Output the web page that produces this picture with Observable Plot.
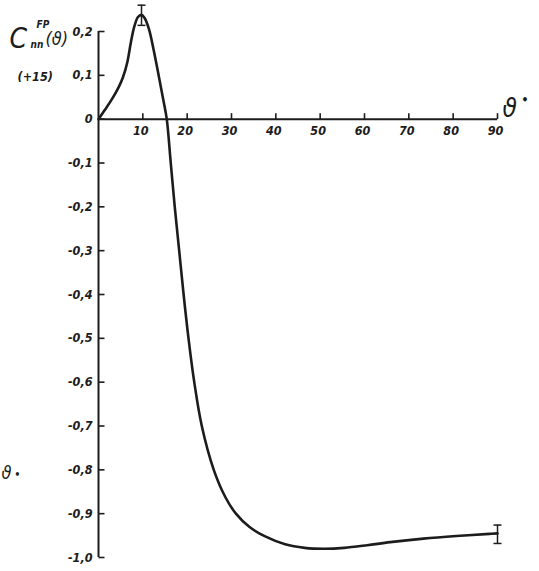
<!DOCTYPE html>
<html>
<head>
<meta charset="utf-8">
<script src="https://cdn.jsdelivr.net/npm/d3@7"></script>
<script src="https://cdn.jsdelivr.net/npm/@observablehq/plot@0.6"></script>
<style>
  html, body { margin: 0; padding: 0; background: #fff; }
  #chart svg { display: block; }
</style>
</head>
<body>
<div id="chart"></div>
<script>
// Curve C_nn^FP(theta)
const theta = [0, 1.5, 3.0, 4.5, 5.5, 6.5, 7.3, 8.1, 8.9, 9.7, 10.4, 11.4, 12.5, 13.7, 14.7, 15.4,
  16.3, 17.2, 18.2, 19.2, 20.3, 21.6, 23.3, 26.0, 28.6, 31.0, 34.0, 37.6, 42.1, 46.5,
  51.0, 55.4, 60.6, 65.8, 73.3, 80.7, 88.2, 90];
const cnn = [0, 0.022, 0.045, 0.072, 0.095, 0.130, 0.175, 0.212, 0.233, 0.238, 0.231, 0.205, 0.155, 0.093, 0.040, 0,
  -0.1, -0.2, -0.3, -0.4, -0.5, -0.6, -0.7, -0.8, -0.862, -0.900, -0.930, -0.952, -0.970, -0.978,
  -0.980, -0.978, -0.972, -0.965, -0.957, -0.951, -0.946, -0.945];

// Error bars
const errTheta = [9.7, 90];
const errLow = [0.214, -0.968];
const errHigh = [0.26, -0.926];

// Ticks
const xTicks = [10, 20, 30, 40, 50, 60, 70, 80, 90];
const xTickLabels = ["10", "20", "30", "40", "50", "60", "70", "80", "90"];
const yTicks = [0.2, 0.1, 0, -0.1, -0.2, -0.3, -0.4, -0.5, -0.6, -0.7, -0.8, -0.9, -1.0];
const yTickLabels = ["0,2", "0,1", "0", "-0,1", "-0,2", "-0,3", "-0,4", "-0,5", "-0,6", "-0,7", "-0,8", "-0,9", "-1,0"];

const curve = theta.map((t, i) => ({t, v: cnn[i]}));
const errs = errTheta.map((t, i) => ({t, lo: errLow[i], hi: errHigh[i]}));
const xt = xTicks.map((t, i) => ({t, label: xTickLabels[i]}));
const yt = yTicks.map((v, i) => ({v, label: yTickLabels[i]}));

const ink = "#1c1c1c";
const font = "'DejaVu Sans Condensed', 'DejaVu Sans', sans-serif";

const hTick = {draw(ctx) { ctx.moveTo(0, 0); ctx.lineTo(6, 0); }};
const vTick = {draw(ctx) { ctx.moveTo(0, 0); ctx.lineTo(0, -6); }};
const cap = {draw(ctx) { ctx.moveTo(-4, 0); ctx.lineTo(4, 0); }};

const ML = 98, MT = 31;
const lbl = (text, X, Y, size, extra = {}) =>
  Plot.text([text], {
    frameAnchor: "top-left", dx: X - ML, dy: Y - MT, text: d => d,
    fontSize: size, fontStyle: "italic", fontWeight: "bold", fill: ink,
    textAnchor: "start", lineAnchor: "bottom", ...extra
  });

const chart = Plot.plot({
  width: 539,
  height: 571,
  marginLeft: ML,
  marginRight: 42,
  marginTop: MT,
  marginBottom: 14,
  style: {background: "#fff", fontFamily: font},
  x: {domain: [0, 90], axis: null},
  y: {domain: [-1.0, 0.2], axis: null},
  marks: [
    // axes lines
    Plot.ruleX([0], {y1: -1.0, y2: 0.2, stroke: ink, strokeWidth: 2}),
    Plot.ruleY([0], {x1: 0, x2: 90, stroke: ink, strokeWidth: 2}),
    // y ticks and labels
    Plot.dot(yt, {x: 0, y: "v", symbol: hTick, stroke: ink, strokeWidth: 1.6, fill: "none"}),
    Plot.text(yt, {x: 0, y: "v", text: "label", dx: -6, textAnchor: "end",
      fontSize: 12.5, fontStyle: "italic", fontWeight: "bold", fill: ink}),
    // x ticks and labels
    Plot.dot(xt, {x: "t", y: 0, symbol: vTick, stroke: ink, strokeWidth: 1.6, fill: "none"}),
    Plot.text(xt, {x: "t", y: 0, text: "label", dy: 12, dx: -2,
      fontSize: 12.5, fontStyle: "italic", fontWeight: "bold", fill: ink}),
    // curve
    Plot.line(curve, {x: "t", y: "v", curve: "catmull-rom", stroke: ink, strokeWidth: 2.6}),
    // error bars
    Plot.ruleX(errs, {x: "t", y1: "lo", y2: "hi", stroke: ink, strokeWidth: 1.5}),
    Plot.dot(errs, {x: "t", y: "lo", symbol: cap, stroke: ink, strokeWidth: 1.5, fill: "none"}),
    Plot.dot(errs, {x: "t", y: "hi", symbol: cap, stroke: ink, strokeWidth: 1.5, fill: "none"}),
    // axis titles
    lbl("C", 9, 47, 28, {fontWeight: "normal"}),
    lbl("FP", 36, 27, 10),
    lbl("nn", 30, 47, 10),
    lbl("(ϑ)", 45, 44, 18, {fontWeight: "normal"}),
    lbl("(+15)", 17, 80, 12.5),
    lbl("ϑ", 502, 116, 26, {fontWeight: "normal"}),
    lbl("•", 521, 103, 12),
    lbl("ϑ", 1, 478, 18, {fontWeight: "normal"}),
    lbl("•", 14, 477, 10)
  ]
});
document.getElementById("chart").append(chart);
</script>
</body>
</html>
